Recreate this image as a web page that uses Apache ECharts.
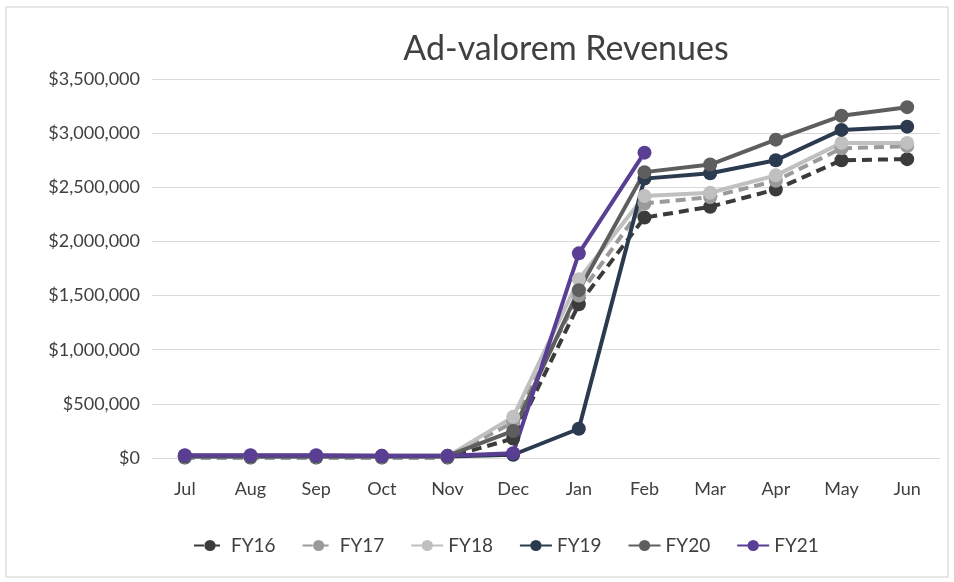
<!DOCTYPE html>
<html>
<head>
    <meta charset="utf-8">
    <title>Ad-valorem Revenues</title>
    <script src="https://cdn.jsdelivr.net/npm/echarts@6/dist/echarts.min.js"></script>
</head>
<body style="margin:0;background:#fff;">
    <div id="main" style="width: 954px;height:582px;"></div>
    <script type="text/javascript">
        // chart data
        var months = ['Jul', 'Aug', 'Sep', 'Oct', 'Nov', 'Dec', 'Jan', 'Feb', 'Mar', 'Apr', 'May', 'Jun'];
        var fy16 = [5000, 5000, 5000, 5000, 5000, 180000, 1420000, 2220000, 2320000, 2480000, 2750000, 2760000];
        var fy17 = [10000, 10000, 10000, 10000, 10000, 330000, 1500000, 2350000, 2410000, 2560000, 2860000, 2880000];
        var fy18 = [15000, 15000, 15000, 15000, 15000, 380000, 1650000, 2420000, 2450000, 2610000, 2910000, 2910000];
        var fy19 = [15000, 15000, 15000, 15000, 15000, 30000, 270000, 2580000, 2630000, 2750000, 3030000, 3060000];
        var fy20 = [20000, 20000, 20000, 20000, 20000, 250000, 1550000, 2640000, 2710000, 2940000, 3160000, 3240000];
        var fy21 = [25000, 25000, 25000, 20000, 20000, 45000, 1890000, 2820000];

        var myChart = echarts.init(document.getElementById('main'));
        var font = 'Lato, "Open Sans", sans-serif';

        function line(name, data, color, dashed) {
            return {
                name: name,
                type: 'line',
                data: data,
                symbol: 'circle',
                symbolSize: 14,
                lineStyle: { width: 4, color: color, type: dashed ? [10, 6] : 'solid' },
                itemStyle: { color: color },
                emphasis: { disabled: true }
            };
        }

        var option = {
            animation: false,
            backgroundColor: '#fff',
            title: {
                text: 'Ad-valorem Revenues',
                left: 561,
                textAlign: 'center',
                top: 27,
                textStyle: { fontFamily: font, fontSize: 34, fontWeight: 'normal', color: '#404040' }
            },
            graphic: [{
                type: 'rect',
                shape: { x: 6, y: 7, width: 942, height: 570 },
                style: { fill: 'none', stroke: '#d0d0d0', lineWidth: 1 },
                silent: true
            }],
            legend: {
                bottom: 22,
                left: 188,
                itemGap: 26,
                itemWidth: 32,
                itemHeight: 14,
                textStyle: { fontFamily: font, fontSize: 19, color: '#404040' },
                data: ['FY16', 'FY17', 'FY18', 'FY19', 'FY20', 'FY21']
            },
            grid: { left: 152, right: 14, top: 79, bottom: 124 },
            xAxis: {
                type: 'category',
                data: months,
                boundaryGap: true,
                axisLine: { show: false },
                axisTick: { show: false },
                axisLabel: { fontFamily: font, fontSize: 18, color: '#404040', margin: 22 }
            },
            yAxis: {
                type: 'value',
                min: 0,
                max: 3500000,
                interval: 500000,
                axisLabel: {
                    fontFamily: font, fontSize: 18, color: '#404040', margin: 12,
                    formatter: function (v) { return '$' + v.toLocaleString('en-US'); }
                },
                splitLine: { lineStyle: { color: '#d9d9d9', width: 1 } }
            },
            series: [
                line('FY16', fy16, '#3a3c3a', true),
                line('FY17', fy17, '#9a9a9a', true),
                line('FY18', fy18, '#c0c0c0', false),
                line('FY19', fy19, '#2c3a4f', false),
                line('FY20', fy20, '#5e5e5e', false),
                line('FY21', fy21, '#5a3e93', false)
            ]
        };

        myChart.setOption(option);
    </script>
</body>
</html>
